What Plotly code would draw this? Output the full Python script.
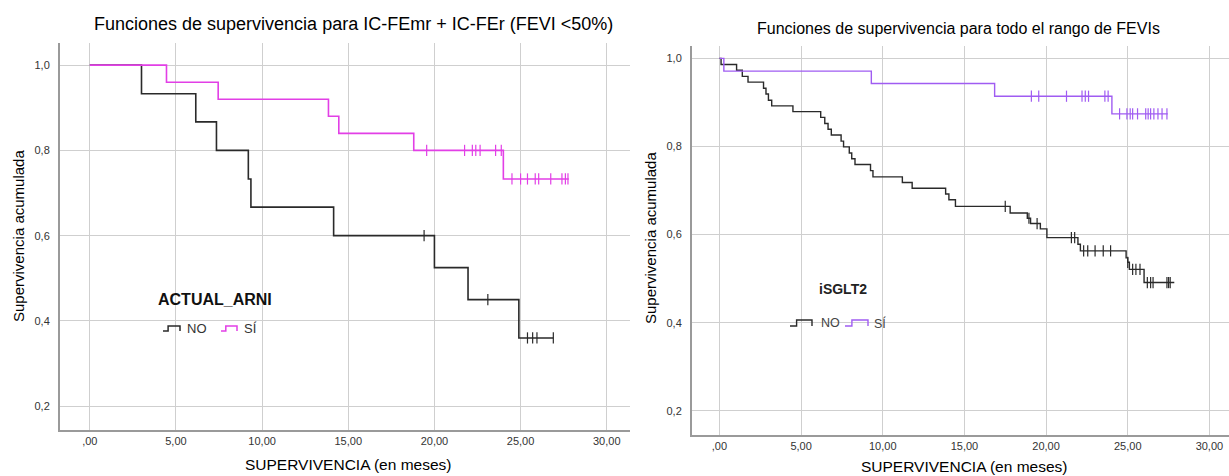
import plotly.graph_objects as go

W, H = 1229, 476

# ---------------- data ----------------
# Left panel: ACTUAL_ARNI (IC-FEmr + IC-FEr, FEVI <50%)
arni_no_t = [0, 3.0, 6.15, 7.35, 9.2, 9.35, 14.15, 20.0, 21.95, 24.9, 26.9]
arni_no_s = [1.0, 0.933, 0.867, 0.80, 0.733, 0.667, 0.60, 0.525, 0.45, 0.36, 0.36]
arni_no_cens_t = [19.4, 23.1, 25.4, 25.7, 25.95, 26.9]
arni_no_cens_s = [0.60, 0.45, 0.36, 0.36, 0.36, 0.36]

arni_si_t = [0, 4.45, 7.45, 13.85, 14.45, 18.8, 24.0, 27.8]
arni_si_s = [1.0, 0.96, 0.92, 0.88, 0.84, 0.80, 0.733, 0.733]
arni_si_cens_t = [19.55, 21.75, 22.2, 22.4, 22.65, 23.55, 23.88,
                  24.5, 25.0, 25.4, 25.85, 26.05, 26.75, 27.4, 27.6, 27.75]
arni_si_cens_s = [0.80] * 7 + [0.733] * 9

# Right panel: iSGLT2 (todo el rango de FEVIs)
sglt_no_t = [0, 0.1, 1.05, 1.4, 1.75, 2.7, 2.85, 3.0, 3.2, 4.5, 6.2, 6.45, 6.65,
             6.85, 7.45, 7.6, 7.95, 8.1, 8.3, 9.25, 9.4, 11.2, 11.8, 13.85, 14.05,
             14.45, 17.8, 18.85, 19.05, 19.65, 20.05, 21.95, 22.1, 24.9, 25.0,
             25.1, 26.0, 27.85]
sglt_no_s = [1.0, 0.986, 0.973, 0.959, 0.946, 0.932, 0.919, 0.905, 0.892, 0.879,
             0.866, 0.852, 0.839, 0.826, 0.812, 0.799, 0.785, 0.772, 0.759, 0.745,
             0.731, 0.718, 0.705, 0.692, 0.679, 0.664, 0.649, 0.637, 0.625, 0.613,
             0.593, 0.578, 0.563, 0.547, 0.537, 0.521, 0.491, 0.491]
sglt_no_cens_t = [17.5, 18.95, 19.45, 21.55, 21.75, 22.3, 22.55, 23.0, 23.5,
                  23.95, 25.0, 25.3, 25.5, 25.75, 26.2, 26.4, 26.55, 27.4, 27.5, 27.6]
sglt_no_cens_s = [0.664, 0.637, 0.625, 0.593, 0.593, 0.563, 0.563, 0.563, 0.563,
                  0.563, 0.537, 0.521, 0.521, 0.521, 0.491, 0.491, 0.491, 0.491,
                  0.491, 0.491]

sglt_si_t = [0, 0.27, 9.3, 16.85, 24.03, 27.45]
sglt_si_s = [1.0, 0.971, 0.943, 0.914, 0.874, 0.874]
sglt_si_cens_t = [19.1, 19.55, 21.25, 22.2, 22.4, 22.6, 23.6, 23.8,
                  24.5, 24.95, 25.15, 25.3, 25.6, 26.1, 26.25, 26.4, 26.6,
                  26.85, 27.1, 27.4]
sglt_si_cens_s = [0.914] * 8 + [0.874] * 12

group_labels = ["NO", "SÍ"]
legend_titles = ["ACTUAL_ARNI", "iSGLT2"]
panel_titles = ["Funciones de supervivencia para IC-FEmr + IC-FEr (FEVI <50%)",
                "Funciones de supervivencia para todo el rango de FEVIs"]
x_title = "SUPERVIVENCIA (en meses)"
y_title = "Supervivencia acumulada"

x_tickvals = [0, 5, 10, 15, 20, 25, 30]
x_ticktext = [",00", "5,00", "10,00", "15,00", "20,00", "25,00", "30,00"]
y_tickvals = [0.2, 0.4, 0.6, 0.8, 1.0]
y_ticktext = ["0,2", "0,4", "0,6", "0,8", "1,0"]

# ---------------- styling ----------------
BLACK = "#2a2a2a"
MAGENTA = "#e23fe6"
PURPLE = "#a05cf2"
GRID = "#cfcfcf"
AXIS = "#9a9a9a"
FONT = "Liberation Sans, Arial, sans-serif"


def px_x(p):
    return p / W


def px_y(p):
    return 1 - p / H


fig = go.Figure()


def add_curve(t, s, ct, cs, color, name, xa, ya, width):
    fig.add_trace(go.Scatter(
        x=t, y=s, mode="lines", line=dict(color=color, width=width, shape="hv"),
        name=name, xaxis=xa, yaxis=ya, showlegend=False, hoverinfo="skip"))
    fig.add_trace(go.Scatter(
        x=ct, y=cs, mode="markers",
        marker=dict(symbol="line-ns", size=8, line=dict(color=color, width=1.2)),
        xaxis=xa, yaxis=ya, showlegend=False, hoverinfo="skip"))


add_curve(arni_no_t, arni_no_s, arni_no_cens_t, arni_no_cens_s, BLACK,
          group_labels[0], "x", "y", 1.6)
add_curve(arni_si_t, arni_si_s, arni_si_cens_t, arni_si_cens_s, MAGENTA,
          group_labels[1], "x", "y", 1.6)
add_curve(sglt_no_t, sglt_no_s, sglt_no_cens_t, sglt_no_cens_s, BLACK,
          group_labels[0], "x2", "y2", 1.4)
add_curve(sglt_si_t, sglt_si_s, sglt_si_cens_t, sglt_si_cens_s, PURPLE,
          group_labels[1], "x2", "y2", 1.4)

axis_common = dict(showgrid=True, gridcolor=GRID, gridwidth=1, zeroline=False,
                   showline=True, linecolor=AXIS, linewidth=2, ticks="",
                   tickfont=dict(family=FONT, size=11, color="#333"))

fig.update_layout(
    width=W, height=H, margin=dict(l=0, r=0, t=0, b=0),
    paper_bgcolor="white", plot_bgcolor="white", showlegend=False,
    font=dict(family=FONT, color="#222"),
    xaxis=dict(domain=[px_x(60), px_x(630)], range=[-1.73, 31.35],
               tickvals=x_tickvals, ticktext=x_ticktext, anchor="y",
               ticklabelstandoff=0, **axis_common),
    yaxis=dict(domain=[px_y(430), px_y(43)], range=[0.144, 1.052],
               tickvals=y_tickvals, ticktext=y_ticktext, anchor="x",
               ticklabelstandoff=6, **axis_common),
    xaxis2=dict(domain=[px_x(692), 1.0], range=[-1.68, 31.2],
                tickvals=x_tickvals, ticktext=x_ticktext, anchor="y2",
                ticklabelstandoff=0, **axis_common),
    yaxis2=dict(domain=[px_y(435), px_y(46)], range=[0.145, 1.028],
                tickvals=y_tickvals, ticktext=y_ticktext, anchor="x2",
                ticklabelstandoff=6, **axis_common),
)

annotations = [
    dict(text=panel_titles[0], x=px_x(353), y=px_y(24), font=dict(size=18, color="#000")),
    dict(text=panel_titles[1], x=px_x(958), y=px_y(28), font=dict(size=16, color="#000")),
    dict(text=x_title, x=px_x(348), y=px_y(464), font=dict(size=15.5, color="#000")),
    dict(text=x_title, x=px_x(964), y=px_y(466), font=dict(size=15.5, color="#000")),
    dict(text=y_title, x=px_x(18), y=px_y(236), textangle=-90,
         font=dict(size=15, color="#000")),
    dict(text=y_title, x=px_x(650), y=px_y(238), textangle=-90,
         font=dict(size=15, color="#000")),
    # legend titles
    dict(text="<b>%s</b>" % legend_titles[0], x=px_x(215), y=px_y(299),
         font=dict(size=16, color="#111")),
    dict(text="<b>%s</b>" % legend_titles[1], x=px_x(843), y=px_y(289),
         font=dict(size=14, color="#222")),
    # legend entries
    dict(text=group_labels[0], x=px_x(185), y=px_y(328), xanchor="left",
         font=dict(size=13, color="#333")),
    dict(text=group_labels[1], x=px_x(242), y=px_y(328), xanchor="left",
         font=dict(size=13, color="#333")),
    dict(text=group_labels[0], x=px_x(819), y=px_y(323), xanchor="left",
         font=dict(size=12.5, color="#444")),
    dict(text=group_labels[1], x=px_x(872), y=px_y(323), xanchor="left",
         font=dict(size=12.5, color="#444")),
]
for a in annotations:
    a.setdefault("xanchor", "center")
    a.update(xref="paper", yref="paper", showarrow=False, yanchor="middle")
    a["font"]["family"] = FONT
fig.update_layout(annotations=annotations)

# legend boxes (white, hiding the grid behind the legend)
for x0, x1, y0, y1 in [(138, 292, 283, 346), (783, 905, 273, 340)]:
    fig.add_shape(type="rect", xref="paper", yref="paper",
                  x0=px_x(x0), x1=px_x(x1), y0=px_y(y1), y1=px_y(y0),
                  fillcolor="white", line=dict(width=0), layer="between")


# small step-shaped legend keys
def step_key(x0, x1, yb, yt, color, width):
    xs = x0 + (x1 - x0) * 0.3
    path = "M {a},{b} L {c},{b} L {c},{d} L {e},{d} L {e},{b}".format(
        a=px_x(x0), b=px_y(yb), c=px_x(xs), d=px_y(yt), e=px_x(x1))
    fig.add_shape(type="path", path=path, xref="paper", yref="paper",
                  line=dict(color=color, width=width), layer="above")


step_key(163, 180, 331, 326, BLACK, 1.5)
step_key(221, 237, 331, 326, MAGENTA, 1.5)
step_key(790, 812, 326, 320, BLACK, 1.4)
step_key(845, 868, 326, 320, PURPLE, 1.4)

fig.write_html("out.html")
